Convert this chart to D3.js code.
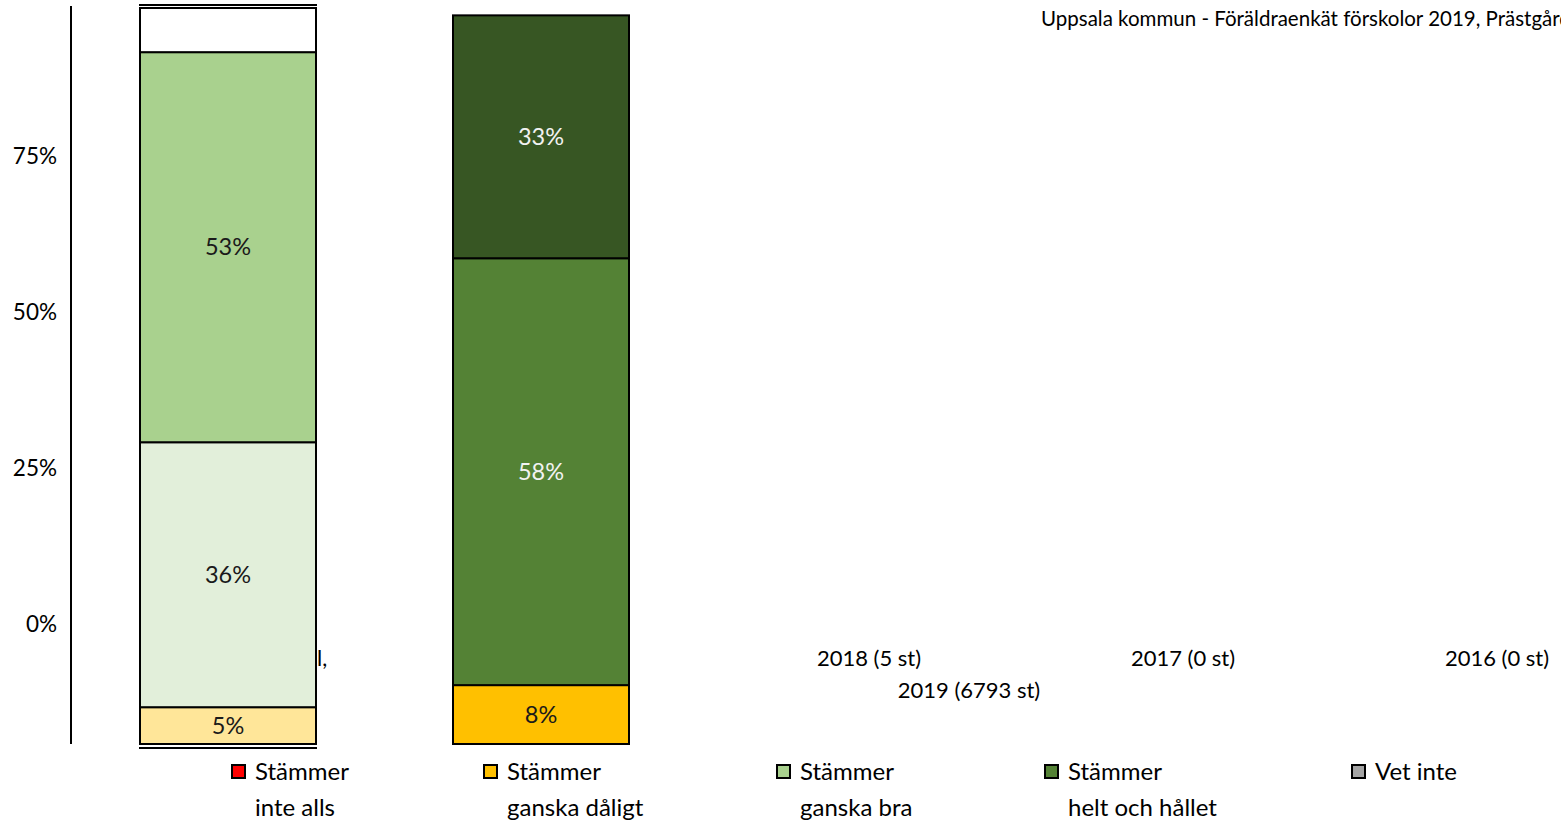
<!DOCTYPE html>
<html>
<head>
<meta charset="utf-8">
<script src="https://cdn.jsdelivr.net/npm/d3@7"></script>
<style>
    body { margin: 0; background: #fff; overflow: hidden; }
    svg { display: block; font-family: Lato, "Open Sans", sans-serif; }
</style>
</head>
<body>
<div id="chart"></div>
<script>
// data
const bars = ["Jämförelse", "2019"];
const segmentKeys = ["s1", "s2", "s3", "s4"];
const jamforelseValues = [5, 36, 53, 6];
const year2019Values = [8, 58, 33, 0];
const jamforelseColors = ["#FFE699", "#E2EFDA", "#A9D18E", "#FFFFFF"];
const year2019Colors = ["#FFC000", "#548235", "#375623", "#FFFFFF"];
const jamforelseLabels = ["5%", "36%", "53%", ""];
const year2019Labels = ["8%", "58%", "33%", ""];

const categories = ["l,", "2019 (6793 st)", "2018 (5 st)", "2017 (0 st)", "2016 (0 st)"];
const yTicks = [0, 0.25, 0.5, 0.75];
const legendNames = [["Stämmer", "inte alls"], ["Stämmer", "ganska dåligt"], ["Stämmer", "ganska bra"], ["Stämmer", "helt och hållet"], ["Vet inte"]];
const legendColors = ["#FF0000", "#FFC000", "#A9D18E", "#548235", "#A5A5A5"];
const title = "Uppsala kommun - Föräldraenkät förskolor 2019, Prästgårdens förskola";

const width = 1561, height = 824;

const svg = d3.select("#chart")
    .append("svg")
    .attr("width", width)
    .attr("height", height);

// bar placement
const xBar = d3.scaleBand()
    .domain(bars)
    .range([140, 629])
    .paddingInner(0.4377)
    .paddingOuter(0);

// stacking scale
const yStack = d3.scaleLinear()
    .domain([0, 100])
    .range([744, 8]);

// tick label scale
const yAxisScale = d3.scaleLinear()
    .domain([0, 1])
    .range([624, 0]);

// category axis (broken layout in the original)
const xCat = d3.scaleBand()
    .domain(categories)
    .range([84, 1654]);

const rows = bars.map(function (b, i) {
    const vals = i === 0 ? jamforelseValues : year2019Values;
    const row = { bar: b };
    segmentKeys.forEach(function (k, j) { row[k] = vals[j]; });
    return row;
});
const colorsFor = { "Jämförelse": jamforelseColors, "2019": year2019Colors };
const labelsFor = { "Jämförelse": jamforelseLabels, "2019": year2019Labels };

const stacked = d3.stack().keys(segmentKeys)(rows);

// category labels (drawn first, bars cover them)
const catOffsets = [{ dx: 0, dy: 0, anchor: "start", x: 316 }, { dx: 414, dy: 32 }, { dx: 0, dy: 0 }, { dx: 0, dy: 0 }, { dx: 0, dy: 0 }];
svg.append("g").selectAll("text")
    .data(categories)
    .join("text")
    .attr("x", function (d, i) {
        const o = catOffsets[i];
        return o.x !== undefined ? o.x + 1 : xCat(d) + xCat.bandwidth() / 2 + o.dx;
    })
    .attr("y", function (d, i) { return 666 + catOffsets[i].dy; })
    .attr("text-anchor", function (d, i) { return catOffsets[i].anchor || "middle"; })
    .style("font-size", "22px")
    .attr("fill", "#000")
    .text(function (d) { return d; });

// y axis
svg.append("line")
    .attr("x1", 71).attr("x2", 71)
    .attr("y1", 6).attr("y2", yStack.range()[0])
    .attr("stroke", "#000").attr("stroke-width", 2);

svg.append("g")
    .attr("transform", "translate(60,0)")
    .call(d3.axisLeft(yAxisScale).tickValues(yTicks).tickSize(0).tickFormat(d3.format(".0%")))
    .call(function (g) { g.select(".domain").remove(); })
    .selectAll("text")
    .style("font-family", "Lato, sans-serif")
    .style("font-size", "22.5px")
    .attr("fill", "#000")
    .attr("dy", "0.35em");

// bars
const layer = svg.append("g").selectAll("g")
    .data(stacked)
    .join("g");

layer.selectAll("rect")
    .data(function (s) { return s.map(function (d) { return { key: s.key, idx: s.index, d: d }; }); })
    .join("rect")
    .filter(function (p) { return p.d[1] - p.d[0] > 0; })
    .attr("x", function (p) { return xBar(p.d.data.bar); })
    .attr("y", function (p) { return yStack(p.d[1]); })
    .attr("width", xBar.bandwidth())
    .attr("height", function (p) { return yStack(p.d[0]) - yStack(p.d[1]); })
    .attr("fill", function (p) { return colorsFor[p.d.data.bar][p.idx]; })
    .attr("stroke", "#000")
    .attr("stroke-width", 2);

layer.selectAll("text")
    .data(function (s) { return s.map(function (d) { return { key: s.key, idx: s.index, d: d }; }); })
    .join("text")
    .attr("x", function (p) { return xBar(p.d.data.bar) + xBar.bandwidth() / 2; })
    .attr("y", function (p) { return (yStack(p.d[0]) + yStack(p.d[1])) / 2; })
    .attr("dy", "0.35em")
    .attr("text-anchor", "middle")
    .style("font-size", "23.5px")
    .attr("fill", function (p) {
        return p.d.data.bar === "2019" && p.idx > 0 ? "#F2F2F2" : "#1a1a1a";
    })
    .text(function (p) { return labelsFor[p.d.data.bar][p.idx]; });

// doubled outline edges on the comparison bar
const b0 = xBar(bars[0]);
[yStack(100) - 3, yStack(0) + 4].forEach(function (y) {
    svg.append("line")
        .attr("x1", b0 - 1).attr("x2", b0 + xBar.bandwidth() + 1)
        .attr("y1", y).attr("y2", y)
        .attr("stroke", "#000").attr("stroke-width", 2);
});

// title (runs past the right edge, as in the original)
svg.append("text")
    .attr("x", 1041)
    .attr("y", 26)
    .style("font-size", "20.5px")
    .attr("fill", "#000")
    .text(title);

// legend
const legendX = [231, 483, 776, 1044, 1351];
const legend = svg.append("g").selectAll("g")
    .data(legendNames)
    .join("g")
    .attr("transform", function (d, i) { return "translate(" + legendX[i] + ",764)"; });

legend.append("rect")
    .attr("x", 1).attr("y", 1)
    .attr("width", 13).attr("height", 13)
    .attr("fill", function (d, i) { return legendColors[i]; })
    .attr("stroke", "#000")
    .attr("stroke-width", 2);

legend.each(function (d) {
    const g = d3.select(this);
    d.forEach(function (line, j) {
        g.append("text")
            .attr("x", 24)
            .attr("y", 16 + j * 36)
            .style("font-size", "24px")
            .attr("fill", "#000")
            .text(line);
    });
});
</script>
</body>
</html>
